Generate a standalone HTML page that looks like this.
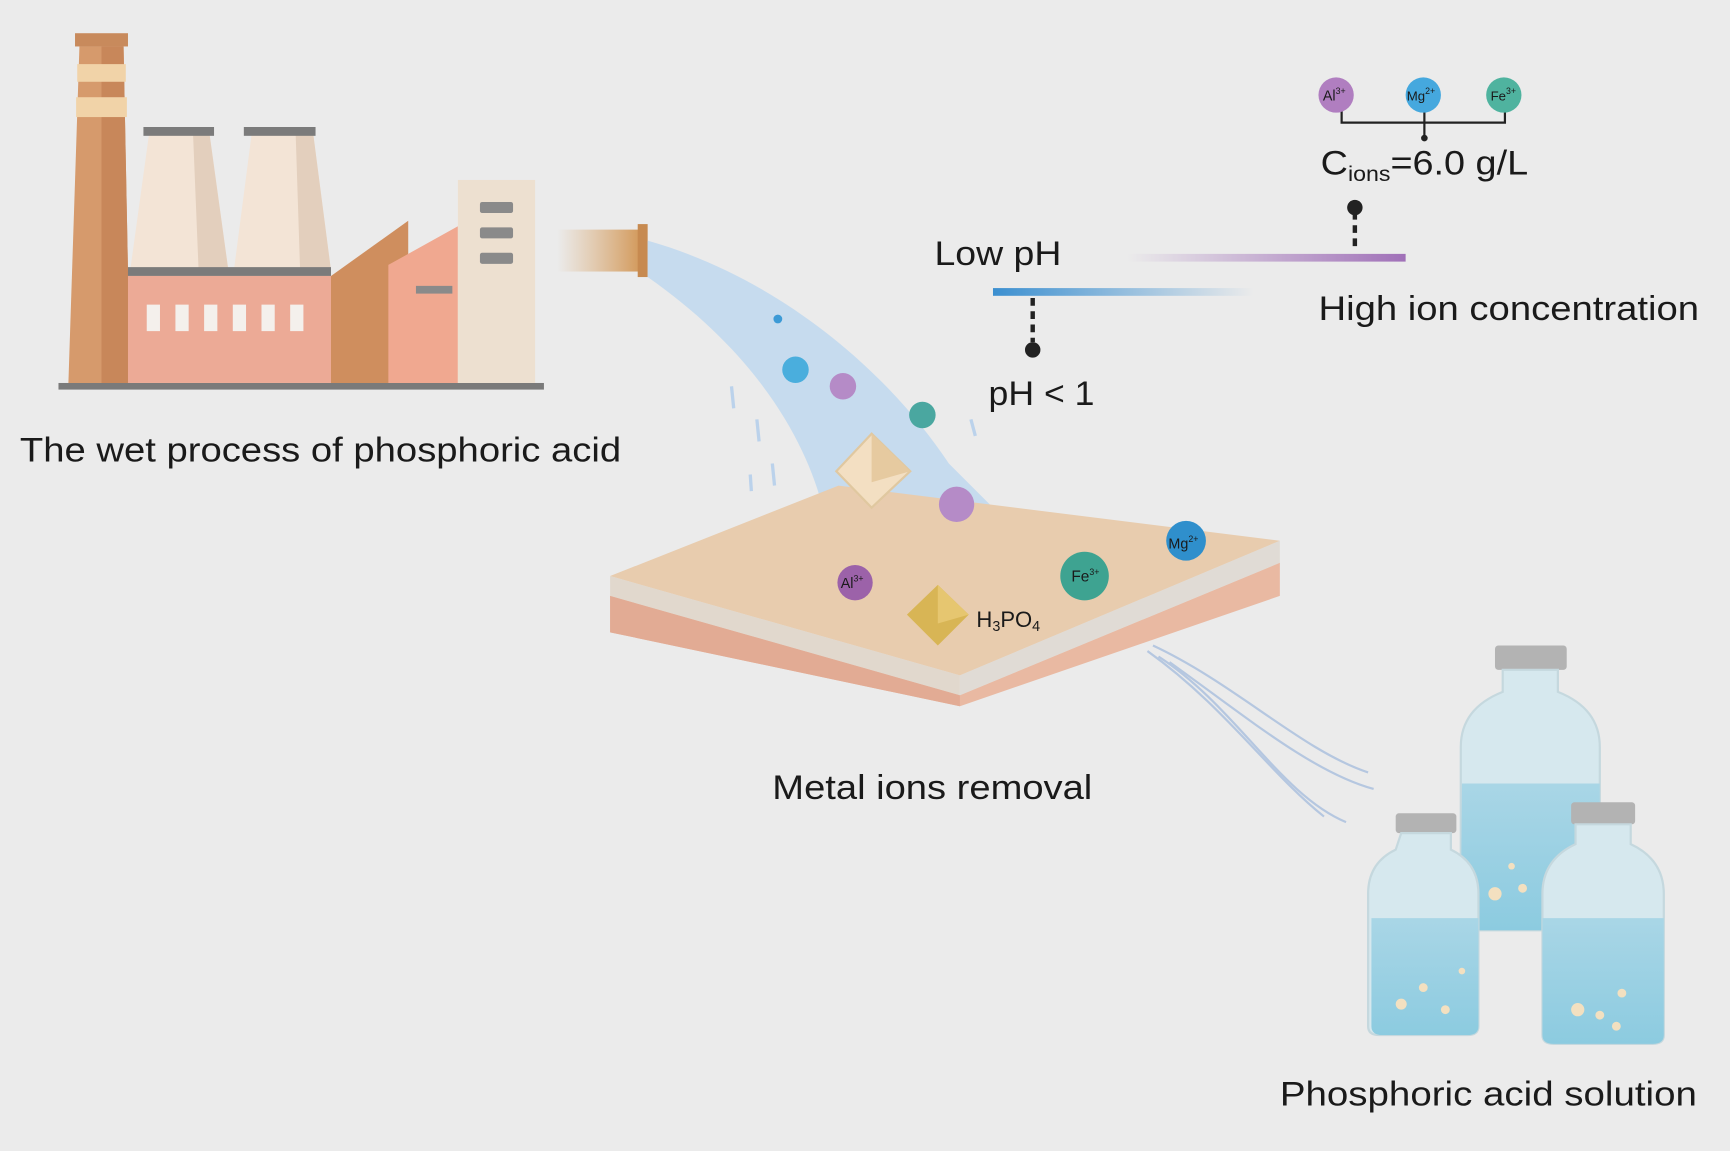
<!DOCTYPE html>
<html><head><meta charset="utf-8"><style>
html,body{margin:0;padding:0;background:#ebebeb;}
svg{display:block;}
text{font-family:"Liberation Sans",sans-serif;fill:#1a1a1a;}
</style></head><body>
<svg width="1730" height="1151" viewBox="0 0 1568 1043" xmlns="http://www.w3.org/2000/svg">
<defs>
<linearGradient id="phg" x1="0" x2="1"><stop offset="0" stop-color="#3b8fd0"/><stop offset="1" stop-color="#3b8fd0" stop-opacity="0"/></linearGradient>
<linearGradient id="iong" x1="0" x2="1"><stop offset="0" stop-color="#a070b8" stop-opacity="0"/><stop offset="1" stop-color="#a070b8"/></linearGradient>
<linearGradient id="pipe" x1="0" x2="1"><stop offset="0" stop-color="#d9a870" stop-opacity="0"/><stop offset="1" stop-color="#d39a5c"/></linearGradient>
<linearGradient id="liq" x1="0" x2="0" y1="0" y2="1"><stop offset="0" stop-color="#a9d6e6"/><stop offset="1" stop-color="#8ccbe0"/></linearGradient>
</defs>
<rect width="1568" height="1043" fill="#ebebeb"/>
<!-- factory -->
<rect x="53" y="347" width="440" height="6" fill="#7a7a7a"/>
<rect x="68" y="30" width="48" height="12" fill="#c88a5c"/>
<polygon points="72,42 112,42 118,347 62,347" fill="#d69a6c"/>
<polygon points="92,42 112,42 118,347 92,347" fill="#c8875a"/>
<rect x="70" y="58" width="44" height="16" fill="#f1d3a8"/>
<rect x="69" y="88" width="46" height="18" fill="#f1d3a8"/>
<polygon points="135,122 190,122 207,245 118,245" fill="#f3e4d6"/>
<polygon points="175,122 190,122 207,245 180,245" fill="#e3cfbd"/>
<rect x="130" y="115" width="64" height="8" fill="#7b7b7b"/>
<polygon points="228,122 284,122 300,245 212,245" fill="#f3e4d6"/>
<polygon points="268,122 284,122 300,245 272,245" fill="#e3cfbd"/>
<rect x="221" y="115" width="65" height="8" fill="#7b7b7b"/>
<rect x="116" y="242" width="184" height="8" fill="#7b7b7b"/>
<rect x="116" y="250" width="184" height="97" fill="#ecaa96"/>
<g fill="#f4f0ec"><rect x="133" y="276" width="12" height="24"/><rect x="159" y="276" width="12" height="24"/><rect x="185" y="276" width="12" height="24"/><rect x="211" y="276" width="12" height="24"/><rect x="237" y="276" width="12" height="24"/><rect x="263" y="276" width="12" height="24"/></g>
<polygon points="300,250 370,200 370,347 300,347" fill="#cf8e5e"/>
<polygon points="352,240 415,205 415,347 352,347" fill="#f0a890"/>
<rect x="377" y="259" width="33" height="7" fill="#8a8a8a"/>
<rect x="415" y="163" width="70" height="184" fill="#ede0d0"/>
<g fill="#8a8a8a"><rect x="435" y="183" width="30" height="10" rx="2"/><rect x="435" y="206" width="30" height="10" rx="2"/><rect x="435" y="229" width="30" height="10" rx="2"/></g>
<text x="18" y="418" font-size="31" textLength="545" lengthAdjust="spacingAndGlyphs">The wet process of phosphoric acid</text>
<!-- pipe -->
<rect x="505" y="208" width="75" height="38" fill="url(#pipe)"/>
<rect x="578" y="203" width="9" height="48" fill="#c78a50"/>
<!-- water stream -->
<path d="M587,218 C700,250 800,330 860,420 L910,470 L750,480 C740,420 700,330 587,251 Z" fill="#b9d6ef" opacity="0.75"/>
<g stroke="#b0ccec" stroke-width="3" opacity="0.8"><line x1="663" y1="350" x2="665" y2="370"/><line x1="686" y1="380" x2="688" y2="400"/><line x1="700" y1="420" x2="702" y2="440"/><line x1="680" y1="430" x2="681" y2="445"/><line x1="880" y1="380" x2="884" y2="395"/></g>
<!-- membrane -->
<polygon points="553,540 870,630 1160,510 1160,540 870,640 553,573" fill="#e9b9a2"/>
<polygon points="553,540 870,630 870,640 553,573" fill="#e2ab94"/>
<polygon points="553,522 760,440 1160,490 870,612" fill="#e8ccae"/>
<polygon points="553,522 870,612 870,630 553,540" fill="#ddd0c0" opacity="0.7"/>
<polygon points="870,612 1160,490 1160,510 870,630" fill="#dcd4cc" opacity="0.7"/>
<!-- particles on stream -->
<circle cx="705" cy="289" r="4" fill="#3c9ad6"/>
<circle cx="721" cy="335" r="12" fill="#4aaedd"/>
<circle cx="764" cy="350" r="12" fill="#b58bc7"/>
<circle cx="836" cy="376" r="12" fill="#4aa7a0"/>
<circle cx="867" cy="457" r="16" fill="#b58bc7"/>
<polygon points="790,393 825,427 790,460 758,427" fill="#f3dfc2" stroke="#e0c8a0" stroke-width="2"/>
<polygon points="790,393 825,427 790,437" fill="#e6caa0"/>
<!-- ions on membrane -->
<circle cx="775" cy="528" r="16" fill="#9c62a9"/><text x="762" y="533" font-size="13" fill="#222">Al<tspan font-size="8" dy="-6">3+</tspan></text>
<circle cx="983" cy="522" r="22" fill="#3ea391"/><text x="971" y="527" font-size="14" fill="#222">Fe<tspan font-size="8" dy="-6">3+</tspan></text>
<circle cx="1075" cy="490" r="18" fill="#2f8fcc"/><text x="1059" y="497" font-size="13" fill="#222">Mg<tspan font-size="8" dy="-6">2+</tspan></text>
<polygon points="850,530 878,557 850,585 822,557" fill="#d8b555"/>
<polygon points="850,530 878,557 850,565" fill="#e6c670"/>
<text x="885" y="568" font-size="20" fill="#555">H<tspan font-size="13" dy="4">3</tspan><tspan dy="-4">PO</tspan><tspan font-size="13" dy="4">4</tspan></text>
<text x="700" y="724" font-size="31" textLength="290" lengthAdjust="spacingAndGlyphs">Metal ions removal</text>
<!-- outflow -->
<g stroke="#9fb8dc" stroke-width="2" fill="none" opacity="0.7">
<path d="M1045,585 C1120,620 1180,680 1240,700"/><path d="M1050,595 C1120,640 1160,720 1220,745"/><path d="M1060,600 C1130,650 1190,700 1245,715"/><path d="M1040,590 C1110,640 1150,700 1200,740"/>
</g>
<!-- bottles -->
<g>
<rect x="1355" y="585" width="65" height="22" rx="3" fill="#b3b3b3"/>
<path d="M1362,607 h50 v20 q38,15 38,50 v158 q0,8 -10,8 h-106 q-10,0 -10,-8 v-158 q0,-35 38,-50z" fill="#d6e8ee" stroke="#c5d8de" stroke-width="2"/>
<path d="M1325,710 h125 v125 q0,8 -10,8 h-106 q-10,0 -10,-8z" fill="url(#liq)"/>
<rect x="1265" y="737" width="55" height="18" rx="3" fill="#b3b3b3"/>
<path d="M1270,755 h45 v15 q25,12 25,40 v120 q0,8 -10,8 h-80 q-10,0 -10,-8 v-120 q0,-28 25,-40z" fill="#d6e8ee" stroke="#c5d8de" stroke-width="2"/>
<path d="M1243,832 h97 v98 q0,8 -10,8 h-77 q-10,0 -10,-8z" fill="url(#liq)"/>
<rect x="1424" y="727" width="58" height="20" rx="3" fill="#b3b3b3"/>
<path d="M1428,747 h50 v18 q30,14 30,45 v128 q0,8 -10,8 h-90 q-10,0 -10,-8 v-128 q0,-31 30,-45z" fill="#d6e8ee" stroke="#c5d8de" stroke-width="2"/>
<path d="M1398,832 h110 v106 q0,8 -10,8 h-90 q-10,0 -10,-8z" fill="url(#liq)"/>
<g fill="#f3e0c0"><circle cx="1270" cy="910" r="5"/><circle cx="1290" cy="895" r="4"/><circle cx="1310" cy="915" r="4"/><circle cx="1325" cy="880" r="3"/><circle cx="1430" cy="915" r="6"/><circle cx="1450" cy="920" r="4"/><circle cx="1470" cy="900" r="4"/><circle cx="1465" cy="930" r="4"/><circle cx="1355" cy="810" r="6"/><circle cx="1380" cy="805" r="4"/><circle cx="1370" cy="785" r="3"/></g>
</g>
<text x="1160" y="1002" font-size="31" textLength="378" lengthAdjust="spacingAndGlyphs">Phosphoric acid solution</text>
<!-- pH bars -->
<text x="847" y="240" font-size="31" textLength="115" lengthAdjust="spacingAndGlyphs">Low pH</text>
<rect x="900" y="261" width="236" height="7" fill="url(#phg)"/>
<line x1="936" y1="270" x2="936" y2="310" stroke="#222" stroke-width="4" stroke-dasharray="7,5"/>
<circle cx="936" cy="317" r="7" fill="#222"/>
<text x="896" y="367" font-size="31" textLength="96" lengthAdjust="spacingAndGlyphs">pH &lt; 1</text>
<rect x="1022" y="230" width="252" height="7" fill="url(#iong)"/>
<line x1="1228" y1="192" x2="1228" y2="228" stroke="#222" stroke-width="4" stroke-dasharray="7,5"/>
<circle cx="1228" cy="188" r="7" fill="#222"/>
<text x="1195" y="290" font-size="31" textLength="345" lengthAdjust="spacingAndGlyphs">High ion concentration</text>
<!-- ions top -->
<path d="M1216,101 v10 h148 v-10 M1291,101 v22" stroke="#222" stroke-width="2" fill="none"/>
<circle cx="1291" cy="125" r="3" fill="#222"/>
<circle cx="1211" cy="86" r="16" fill="#b07ec0"/><text x="1199" y="91" font-size="13" fill="#222">Al<tspan font-size="8" dy="-6">3+</tspan></text>
<circle cx="1290" cy="86" r="16" fill="#45a8de"/><text x="1275" y="91" font-size="12" fill="#222">Mg<tspan font-size="8" dy="-6">2+</tspan></text>
<circle cx="1363" cy="86" r="16" fill="#4fb39f"/><text x="1351" y="91" font-size="12" fill="#222">Fe<tspan font-size="8" dy="-6">3+</tspan></text>
<text x="1197" y="158" font-size="31" textLength="188" lengthAdjust="spacingAndGlyphs">C<tspan font-size="19" dy="6">ions</tspan><tspan dy="-6">=6.0 g/L</tspan></text>
</svg>
</body></html>
